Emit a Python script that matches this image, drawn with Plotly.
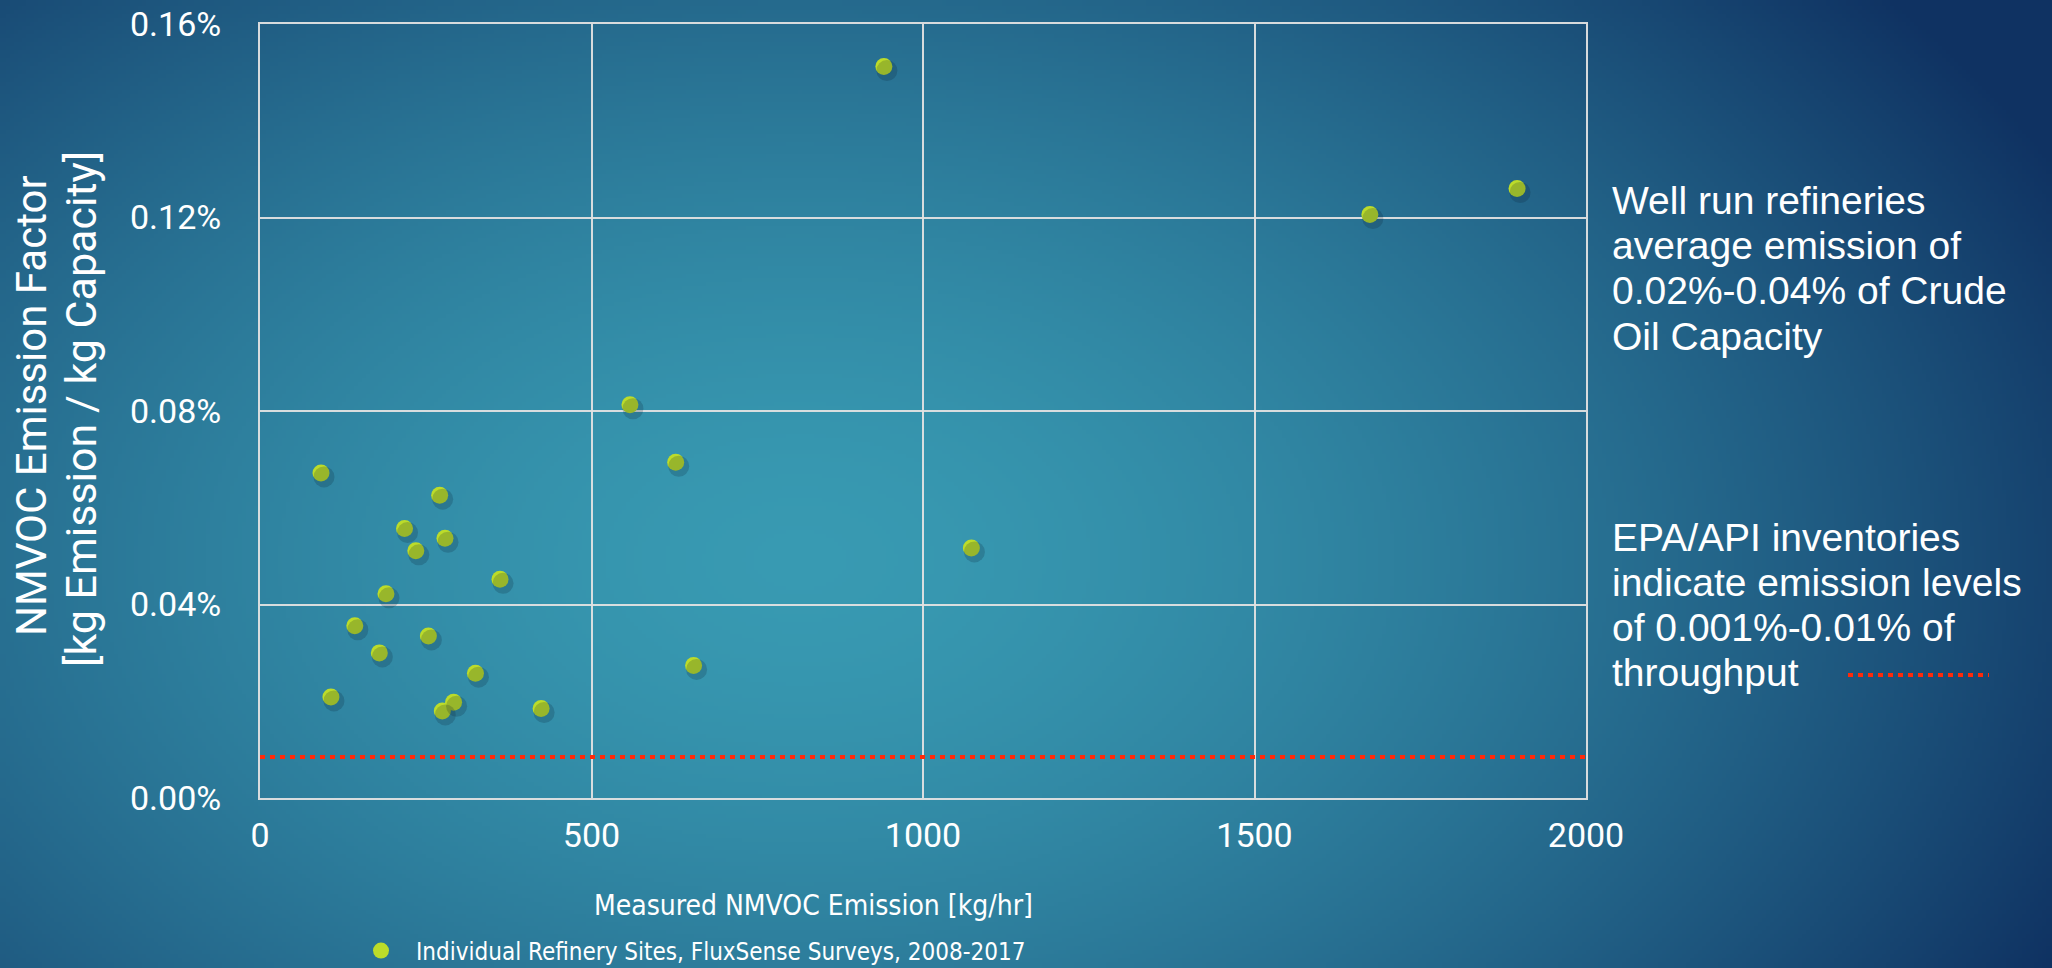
import base64
import struct
import zlib

import numpy as np
import plotly.graph_objects as go

# Measured NMVOC emission [kg/hr] and emission factor [% of crude capacity] per refinery site
emission_kg_hr = [92, 271, 218, 279, 235, 362, 190, 143, 254, 180, 325,
                  107, 292, 275, 424, 627, 654, 558, 941, 1674, 1896, 1073]
emission_factor_pct = [0.0672, 0.0626, 0.0557, 0.0537, 0.0511, 0.0452, 0.0422,
                       0.0356, 0.0335, 0.0300, 0.0258, 0.0209, 0.0198, 0.0180,
                       0.0185, 0.0694, 0.0274, 0.0813, 0.1512, 0.1206, 0.1260,
                       0.0517]

# EPA/API inventory emission level [% of throughput]
inventory_level_pct = 0.0085

x_range = [0, 2000]
y_range = [0, 0.16]
x_ticks = [0, 500, 1000, 1500, 2000]
y_ticks = [0.0, 0.04, 0.08, 0.12, 0.16]
y_tick_labels = ["0.00%", "0.04%", "0.08%", "0.12%", "0.16%"]

note_capacity = ["Well run refineries", "average emission of",
                 "0.02%-0.04% of Crude", "Oil Capacity"]
note_inventory = ["EPA/API inventories", "indicate emission levels",
                  "of 0.001%-0.01% of", "throughput"]

W, H = 2052, 968
M_L, M_R, M_T, M_B = 260, 466, 24, 170
PW, PH = W - M_L - M_R, H - M_T - M_B

CHART_FONT = "Roboto, sans-serif"
NARROW_FONT = "DejaVu Sans Condensed, Roboto, sans-serif"
NOTE_FONT = "Liberation Sans, Arial, sans-serif"
GRID = "rgba(225,225,225,0.95)"
DOT = "#bcdc2a"


def png_data_uri(rgb):
    h, w, _ = rgb.shape
    raw = b"".join(b"\x00" + rgb[i].tobytes() for i in range(h))

    def chunk(tag, data):
        body = tag + data
        return struct.pack(">I", len(data)) + body + struct.pack(">I", zlib.crc32(body) & 0xFFFFFFFF)

    png = (b"\x89PNG\r\n\x1a\n"
           + chunk(b"IHDR", struct.pack(">IIBBBBB", w, h, 8, 2, 0, 0, 0))
           + chunk(b"IDAT", zlib.compress(raw, 9))
           + chunk(b"IEND", b""))
    return "data:image/png;base64," + base64.b64encode(png).decode()


# Radial teal-to-navy backdrop
gw, gh = W // 4, H // 4
gx = (np.arange(gw) + 0.5) * 4
gy = (np.arange(gh) + 0.5) * 4
X, Y = np.meshgrid(gx, gy)
t = np.sqrt(((X - 800) / 1400) ** 2 + ((Y - 560) / 900) ** 2)
t = np.clip(t, 0, 1) ** 1.6
c0 = np.array([56, 154, 178], dtype=float)
c1 = np.array([15, 50, 98], dtype=float)
bg = (c0[None, None, :] + (c1 - c0)[None, None, :] * t[..., None]).round().astype(np.uint8)
bg_uri = png_data_uri(bg)

# Pixel offsets for the soft marker shadow, expressed through a second pair of axes
sx = 3 * (x_range[1] - x_range[0]) / PW
sy = 4 * (y_range[1] - y_range[0]) / PH

fig = go.Figure()

fig.add_trace(go.Scatter(
    x=[x_range[0], x_range[1]], y=[inventory_level_pct, inventory_level_pct],
    mode="lines", line=dict(color="#ff2a0a", width=4, dash="5px,5px"),
    showlegend=False, hoverinfo="skip",
))

fig.add_trace(go.Scatter(
    x=emission_kg_hr, y=emission_factor_pct, xaxis="x2", yaxis="y2",
    mode="markers", marker=dict(size=21, color="rgba(8,30,50,0.2)", line=dict(width=0)),
    showlegend=False, hoverinfo="skip",
))

fig.add_trace(go.Scatter(
    x=emission_kg_hr, y=emission_factor_pct,
    mode="markers", name="Individual Refinery Sites, FluxSense Surveys, 2008-2017",
    marker=dict(size=17, color=DOT, opacity=1, line=dict(width=0)),
))

axis_common = dict(
    showgrid=True, gridcolor=GRID, gridwidth=2,
    showline=True, linecolor=GRID, linewidth=2, mirror=True,
    zeroline=False, ticks="",
    tickfont=dict(family=CHART_FONT, size=34, color="white"),
)

fig.update_layout(
    width=W, height=H,
    margin=dict(l=M_L, r=M_R, t=M_T, b=M_B, autoexpand=False),
    paper_bgcolor="#1d5b84",
    plot_bgcolor="rgba(0,0,0,0)",
    xaxis=dict(range=x_range, tickvals=x_ticks, ticklabelstandoff=6, **axis_common),
    yaxis=dict(range=y_range, tickvals=y_ticks, ticktext=y_tick_labels,
               ticklabelstandoff=30, **axis_common),
    xaxis2=dict(range=[x_range[0] - sx, x_range[1] - sx], overlaying="x", visible=False),
    yaxis2=dict(range=[y_range[0] + sy, y_range[1] + sy], overlaying="y", visible=False),
    showlegend=True,
    legend=dict(
        x=(346 - M_L) / PW, y=(M_T + PH - 951) / PH, xanchor="left", yanchor="middle",
        bgcolor="rgba(0,0,0,0)", font=dict(family=NARROW_FONT, size=24, color="white"),
        itemsizing="trace", itemwidth=60,
    ),
    images=[dict(
        source=bg_uri, xref="paper", yref="paper",
        x=-M_L / PW, y=1 + M_T / PH, sizex=W / PW, sizey=H / PH,
        xanchor="left", yanchor="top", sizing="stretch", layer="below",
    )],
)


def px_x(p):
    return (p - M_L) / PW


def px_y(p):
    return (M_T + PH - p) / PH


fig.add_annotation(
    text="Measured NMVOC Emission [kg/hr]", x=px_x(813), y=px_y(905),
    xref="paper", yref="paper", showarrow=False, xanchor="center", yanchor="middle",
    font=dict(family=NARROW_FONT, size=28, color="white"),
)
fig.add_annotation(
    text="NMVOC Emission Factor", x=px_x(31), y=px_y(406),
    xref="paper", yref="paper", showarrow=False, textangle=-90,
    xanchor="center", yanchor="middle",
    font=dict(family=CHART_FONT, size=42, color="white"),
)
fig.add_annotation(
    text="[kg Emission / kg Capacity]", x=px_x(81), y=px_y(409),
    xref="paper", yref="paper", showarrow=False, textangle=-90,
    xanchor="center", yanchor="middle",
    font=dict(family=CHART_FONT, size=43, color="white"),
)

# Side notes, one annotation per line for tight line spacing
for lines, first_y in ((note_capacity, 201), (note_inventory, 537)):
    for i, line in enumerate(lines):
        fig.add_annotation(
            text=line, x=px_x(1610), y=px_y(first_y + 45 * i),
            xref="paper", yref="paper", showarrow=False,
            xanchor="left", yanchor="middle", align="left",
            font=dict(family=NOTE_FONT, size=39, color="white"),
        )

# Key for the dotted inventory line
fig.add_shape(
    type="line", xref="paper", yref="paper",
    x0=px_x(1848), x1=px_x(1989), y0=px_y(675), y1=px_y(675),
    line=dict(color="#ff2a0a", width=4, dash="5px,5px"),
)

fig.write_html("out.html")
